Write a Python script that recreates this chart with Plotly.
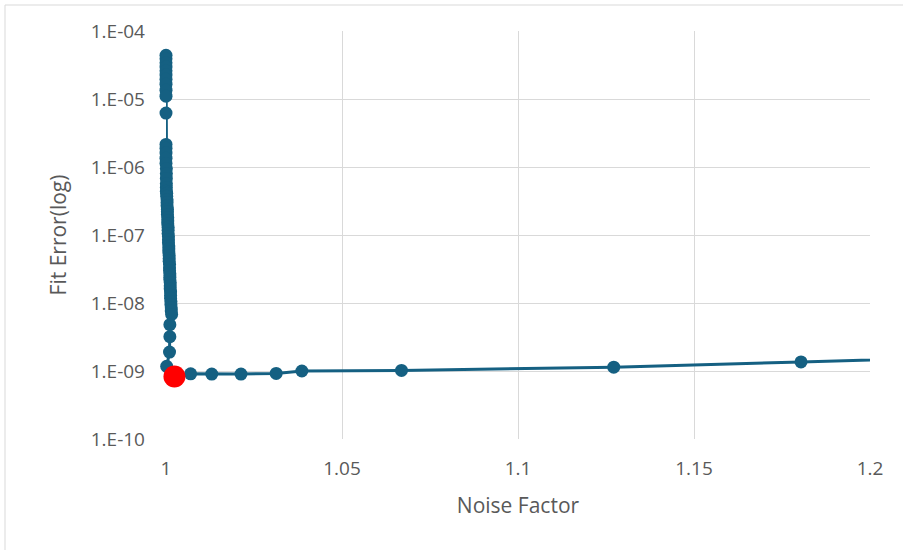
import plotly.graph_objects as go

# Fit error against noise factor along the sweep
noise_factor = [
    1.0000, 1.0000, 1.0000, 1.0000, 1.0000, 1.0000, 1.0000, 1.0000, 1.0000, 1.0000, 1.0000,
    1.0000, 1.0000, 1.0000, 1.0000, 1.0000, 1.0001, 1.0001, 1.0001, 1.0001, 1.0001, 1.0001,
    1.0002, 1.0002, 1.0003, 1.0003, 1.0003, 1.0004, 1.0004, 1.0004, 1.0005, 1.0005,
    1.0005, 1.0006, 1.0006, 1.0006, 1.0007, 1.0007, 1.0007, 1.0008, 1.0008, 1.0008,
    1.0009, 1.0009, 1.0009, 1.0010, 1.0010, 1.0010, 1.0011, 1.0011, 1.0011, 1.0012,
    1.0012, 1.0012, 1.0013, 1.0013, 1.0013, 1.0014, 1.0014, 1.0015, 1.0015, 1.0016,
    1.0011, 1.0011, 1.0010, 1.0002,
    1.0024,
    1.0070, 1.0130, 1.0213, 1.0313, 1.0386, 1.0669, 1.1272, 1.1804, 1.2500,
]
fit_error = [
    4.4e-5, 3.9e-5, 3.4e-5, 2.95e-5, 2.6e-5, 2.25e-5, 1.95e-5, 1.65e-5, 1.35e-5, 1.1e-5, 6.2e-6,
    2.15e-6, 1.88e-6, 1.6e-6, 1.35e-6, 1.13e-6, 9.5e-7, 8.0e-7, 6.8e-7, 5.7e-7, 5.0e-7, 4.4e-7,
    4.1e-7, 3.7e-7, 3.3e-7, 3.0e-7, 2.7e-7, 2.4e-7, 2.2e-7, 2.0e-7, 1.8e-7, 1.6e-7,
    1.45e-7, 1.3e-7, 1.17e-7, 1.05e-7, 9.5e-8, 8.5e-8, 7.7e-8, 6.9e-8, 6.2e-8, 5.6e-8,
    5.0e-8, 4.5e-8, 4.1e-8, 3.7e-8, 3.3e-8, 3.0e-8, 2.7e-8, 2.4e-8, 2.2e-8, 2.0e-8,
    1.8e-8, 1.6e-8, 1.45e-8, 1.3e-8, 1.17e-8, 1.05e-8, 9.5e-9, 8.5e-9, 7.6e-9, 6.8e-9,
    4.8e-9, 3.2e-9, 1.9e-9, 1.17e-9,
    8.3e-10,
    9.1e-10, 9.0e-10, 9.0e-10, 9.2e-10, 1.0e-9, 1.02e-9, 1.14e-9, 1.36e-9, 1.69e-9,
]

# Selected operating point (knee of the curve)
best_noise = [1.0024]
best_error = [8.3e-10]

y_tick_vals = [1e-10, 1e-9, 1e-8, 1e-7, 1e-6, 1e-5, 1e-4]
y_tick_text = ["1.E-10", "1.E-09", "1.E-08", "1.E-07", "1.E-06", "1.E-05", "1.E-04"]
x_tick_vals = [1, 1.05, 1.1, 1.15, 1.2]
x_tick_text = ["1", "1.05", "1.1", "1.15", "1.2"]

BLUE = "#156082"
GRID = "#d9d9d9"
TEXT = "#595959"
FONT = "Open Sans, Liberation Sans, sans-serif"

fig = go.Figure()
fig.add_trace(go.Scatter(
    x=noise_factor, y=fit_error, mode="lines+markers",
    line=dict(color=BLUE, width=3),
    marker=dict(color=BLUE, size=13),
    cliponaxis=False,
    showlegend=False,
))
fig.add_trace(go.Scatter(
    x=best_noise, y=best_error, mode="markers",
    marker=dict(color="#ff0000", size=22),
    cliponaxis=False,
    showlegend=False,
))

fig.update_layout(
    width=903, height=550,
    margin=dict(l=166, r=33, t=31, b=111),
    paper_bgcolor="white", plot_bgcolor="white",
    font=dict(family=FONT, color=TEXT, size=19),
    xaxis=dict(
        range=[1, 1.2], tickvals=x_tick_vals, ticktext=x_tick_text,
        showgrid=True, gridcolor=GRID, gridwidth=1,
        zeroline=False, showline=False, ticks="",
        ticklabelstandoff=16,
        tickfont=dict(size=19, color=TEXT),
        title=dict(text="Noise Factor", font=dict(size=21, color=TEXT), standoff=18),
    ),
    yaxis=dict(
        type="log", range=[-10, -4], tickvals=y_tick_vals, ticktext=y_tick_text,
        showgrid=True, gridcolor=GRID, gridwidth=1,
        zeroline=False, showline=False, ticks="",
        ticklabelstandoff=20,
        tickfont=dict(size=19, color=TEXT),
        title=dict(text="Fit Error(log)", font=dict(size=21, color=TEXT), standoff=18),
    ),
    shapes=[
        # chart frame
        dict(type="rect", xref="paper", yref="paper",
             x0=(5 - 166) / 704, x1=1.3, y0=-0.5, y1=(439 - 5) / 408,
             line=dict(color=GRID, width=1), fillcolor="rgba(0,0,0,0)", layer="below"),
    ],
)

fig.write_html("out.html")
